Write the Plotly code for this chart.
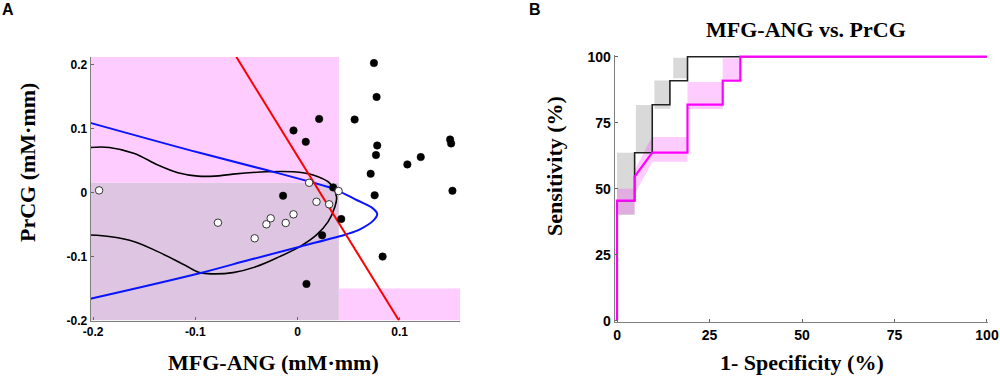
import plotly.graph_objects as go

# ---------------- Panel A data ----------------
filled_x = [0.0748, 0.0774, 0.0212, 0.0559, -0.0039, 0.0081, 0.0780, 0.0768, 0.1493, 0.1503,
            0.1206, 0.1075, 0.0716, 0.0755, 0.1516, -0.0141, 0.0349, 0.0428, 0.0241, 0.0833, 0.0088]
filled_y = [0.203, 0.150, 0.1156, 0.1146, 0.0975, 0.0797, 0.074, 0.059, 0.0834, 0.0772,
            0.0558, 0.0444, 0.0297, -0.004, 0.0031, -0.0047, 0.0084, -0.0411, -0.0666, -0.100, -0.1427]
open_x = [-0.1941, -0.0778, -0.0419, -0.0304, -0.0262, -0.0115, -0.0039, 0.0114, 0.0186, 0.031, 0.0402]
open_y = [0.0037, -0.0469, -0.0713, -0.0494, -0.040, -0.0473, -0.0338, 0.0156, -0.0141, -0.0181, 0.0027]

# linear boundary (red)
lin_x = [-0.0598, 0.0993]
lin_y = [0.2125, -0.200]

# quadratic boundary (blue)
quad_x = [-0.2027, -0.0958, -0.0304, 0.0121, 0.0382, 0.0578, 0.0725, 0.0780,
          0.0741, 0.0611, 0.0480, 0.0023, -0.0468, -0.0958, -0.2027]
quad_y = [0.1094, 0.0625, 0.0355, 0.0172, 0.0042, -0.0114, -0.0229, -0.0333,
          -0.0437, -0.0573, -0.0650, -0.0844, -0.1050, -0.1260, -0.1660]

# contour (black)
cont_x = [-0.2027, -0.184, -0.1595, -0.1366, -0.117, -0.0974, -0.0811, -0.0631, -0.0304, -0.0043,
          0.0153, 0.0317, 0.0382, 0.0366, 0.030, 0.0186, 0.0023, -0.0174, -0.0402, -0.0631,
          -0.0827, -0.0958, -0.1105, -0.1366, -0.1595, -0.1824, -0.2027]
cont_y = [0.0709, 0.0709, 0.0615, 0.0433, 0.0313, 0.026, 0.026, 0.0292, 0.0328, 0.0328,
          0.0277, 0.0147, -0.0063, -0.0219, -0.0453, -0.0661, -0.0844, -0.100, -0.1156, -0.125,
          -0.127, -0.125, -0.113, -0.0922, -0.0766, -0.0688, -0.0661]

# thresholds of shaded regions
thr_x = 0.0405
thr_y_upper = 0.0156
thr_y_lower = -0.150

xA_range = [-0.2023, 0.159]
yA_range = [-0.2, 0.2125]

# ---------------- Panel B data ----------------
fpr_black = [0, 0, 4.76, 4.76, 9.52, 9.52, 14.29, 14.29, 19.05, 19.05, 100]
tpr_black = [0, 45.45, 45.45, 63.64, 63.64, 81.82, 81.82, 90.91, 90.91, 100, 100]
fpr_mag = [0, 0, 4.76, 4.76, 9.52, 19.05, 19.05, 28.57, 28.57, 33.33, 33.33, 100]
tpr_mag = [0, 45.45, 45.45, 54.55, 63.64, 63.64, 81.82, 81.82, 90.91, 90.91, 100, 100]

gray_bands = [(0, 4.76, 40, 63.6), (5.1, 9.4, 63.6, 81.7), (10.1, 14.4, 80.3, 91.0), (15.2, 19.1, 91.8, 99.6)]
mag_bands = [(0, 4.76, 40.3, 50.0), (9.52, 19.05, 60.2, 69.6), (19.05, 28.57, 80.2, 90.4), (28.57, 33.33, 91.6, 99.4)]
mag_diag_x = [4.76, 4.76, 9.52, 9.52]
mag_diag_y = [48, 57, 70, 60]

fig = go.Figure()

# Panel A shading
shapes = [
    dict(type="rect", xref="x", yref="y", x0=xA_range[0], x1=thr_x, y0=thr_y_upper, y1=yA_range[1],
         fillcolor="#ffccff", line_width=0, layer="below"),
    dict(type="rect", xref="x", yref="y", x0=xA_range[0], x1=thr_x, y0=yA_range[0], y1=thr_y_upper,
         fillcolor="#dec6e2", line_width=0, layer="below"),
    dict(type="rect", xref="x", yref="y", x0=thr_x, x1=xA_range[1], y0=yA_range[0], y1=thr_y_lower,
         fillcolor="#ffccff", line_width=0, layer="below"),
]
for (x0, x1, y0, y1) in gray_bands:
    shapes.append(dict(type="rect", xref="x2", yref="y2", x0=x0, x1=x1, y0=y0, y1=y1,
                       fillcolor="rgba(128,128,128,0.3)", line_width=0, layer="below"))
for (x0, x1, y0, y1) in mag_bands:
    shapes.append(dict(type="rect", xref="x2", yref="y2", x0=x0, x1=x1, y0=y0, y1=y1,
                       fillcolor="rgba(255,0,255,0.2)", line_width=0, layer="below"))

fig.add_trace(go.Scatter(x=mag_diag_x + [mag_diag_x[0]], y=mag_diag_y + [mag_diag_y[0]],
                         xaxis="x2", yaxis="y2", mode="none", fill="toself",
                         fillcolor="rgba(255,0,255,0.2)", hoverinfo="skip", showlegend=False))

fig.add_trace(go.Scatter(x=cont_x, y=cont_y, mode="lines", line=dict(color="black", width=1.6, shape="spline"),
                         xaxis="x", yaxis="y", showlegend=False))
fig.add_trace(go.Scatter(x=quad_x, y=quad_y, mode="lines", line=dict(color="#0a14ff", width=2, shape="spline"),
                         xaxis="x", yaxis="y", showlegend=False))
fig.add_trace(go.Scatter(x=lin_x, y=lin_y, mode="lines", line=dict(color="#ff0000", width=2),
                         xaxis="x", yaxis="y", showlegend=False))
fig.add_trace(go.Scatter(x=filled_x, y=filled_y, mode="markers",
                         marker=dict(color="black", size=7.5, line=dict(color="black", width=0.5)),
                         xaxis="x", yaxis="y", showlegend=False, cliponaxis=False))
fig.add_trace(go.Scatter(x=open_x, y=open_y, mode="markers",
                         marker=dict(color="white", size=7.5, line=dict(color="#333333", width=1)),
                         xaxis="x", yaxis="y", showlegend=False, cliponaxis=False))

# Panel B
fig.add_trace(go.Scatter(x=fpr_black, y=tpr_black, mode="lines", line=dict(color="#222222", width=1.6),
                         xaxis="x2", yaxis="y2", showlegend=False))
fig.add_trace(go.Scatter(x=fpr_mag, y=tpr_mag, mode="lines", line=dict(color="#ff00ff", width=2.2),
                         xaxis="x2", yaxis="y2", showlegend=False))

tickfontA = dict(family="Liberation Sans", size=12, color="black", weight="bold")
tickfontB = dict(family="Liberation Sans", size=14, color="black", weight="bold")
axis_common = dict(showgrid=False, zeroline=False, showline=True, linecolor="#7f7f7f", linewidth=1.2,
                   ticks="inside", ticklen=3, tickcolor="#666666", mirror=False, automargin=False)

fig.update_layout(
    template=None,
    width=1000, height=376,
    margin=dict(l=0, r=0, t=0, b=0),
    paper_bgcolor="white", plot_bgcolor="white",
    shapes=shapes,
    xaxis=dict(domain=[0.0907, 0.46], range=xA_range, tickvals=[-0.2, -0.1, 0, 0.1],
               ticktext=["-0.2", "-0.1", "0", "0.1"], tickfont=tickfontA, anchor="y", **axis_common),
    yaxis=dict(domain=[1 - 320.5 / 376, 1 - 57 / 376], range=yA_range, tickvals=[-0.2, -0.1, 0, 0.1, 0.2],
               ticktext=["-0.2", "-0.1", "0", "0.1", "0.2"], tickfont=tickfontA, anchor="x", **axis_common),
    xaxis2=dict(domain=[614.8 / 1000, 988.1 / 1000], range=[-0.6, 100.3], tickvals=[0, 25, 50, 75, 100],
                tickfont=tickfontB, anchor="y2", **axis_common),
    yaxis2=dict(domain=[1 - 322.0 / 376, 1 - 54.6 / 376], range=[-0.5, 100.8], tickvals=[0, 25, 50, 75, 100],
                tickfont=tickfontB, anchor="x2", **axis_common),
)

title_font = dict(family="Liberation Serif", size=22, color="black", weight="bold")
ann = [
    dict(text="MFG-ANG (mM·mm)", x=273, y=362),
    dict(text="1- Specificity (%)", x=802, y=362),
    dict(text="MFG-ANG vs. PrCG", x=806, y=30),
]
annotations = []
for a in ann:
    annotations.append(dict(text=a["text"], xref="paper", yref="paper", x=a["x"] / 1000, y=1 - a["y"] / 376,
                            xanchor="center", yanchor="middle", showarrow=False, font=title_font))
annotations.append(dict(text="PrCG (mM·mm)", xref="paper", yref="paper", x=27 / 1000, y=1 - 163 / 376,
                        xanchor="center", yanchor="middle", showarrow=False, textangle=-90, font=title_font))
annotations.append(dict(text="Sensitivity (%)", xref="paper", yref="paper", x=555 / 1000, y=1 - 166 / 376,
                        xanchor="center", yanchor="middle", showarrow=False, textangle=-90, font=title_font))
letter_font = dict(family="Liberation Sans", size=16, color="black", weight="bold")
annotations.append(dict(text="A", xref="paper", yref="paper", x=8 / 1000, y=1 - 10 / 376,
                        xanchor="center", yanchor="middle", showarrow=False, font=letter_font))
annotations.append(dict(text="B", xref="paper", yref="paper", x=535 / 1000, y=1 - 10 / 376,
                        xanchor="center", yanchor="middle", showarrow=False, font=letter_font))
fig.update_layout(annotations=annotations)

fig.write_html("out.html", config={"displayModeBar": False},
               post_script="document.body.style.margin='0px';document.body.style.overflow='hidden';")
